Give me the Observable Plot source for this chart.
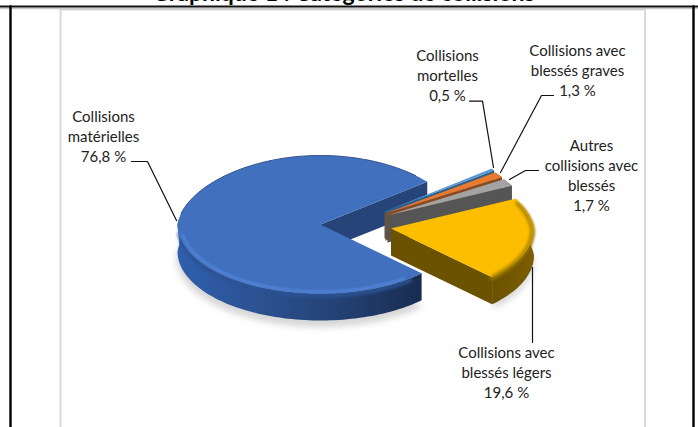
<!DOCTYPE html>
<html><head><meta charset="utf-8">
<script src="https://cdn.jsdelivr.net/npm/d3@7"></script>
<script src="https://cdn.jsdelivr.net/npm/@observablehq/plot@0.6"></script>
<style>html,body{margin:0;background:#fff}svg{display:block}</style>
</head><body><div id="c"></div>
<script>
const categories = ["Collisions matérielles","Collisions mortelles","Collisions avec blessés graves","Autres collisions avec blessés","Collisions avec blessés légers"];
const values = [76.8,0.5,1.3,1.7,19.6];
const valueLabels = ["76,8 %","0,5 %","1,3 %","1,7 %","19,6 %"];
const title = "Graphique 1 : Catégories de collisions";

// layout
const cx=320, cy=224, rx=143, ry=69, depth=27, persp=.08;
const explodeX=[0,.563,.548,.533,.5], explodeY=[0,.31,.285,.27,.35];
const topColors=["#4170bf","#5a9ad3","#ea7a30","#a3a3a3","#fdbe00"];
const sideColors=["url(#sideBlue)","#2d5f8c","#8a4a20","#565656","url(#sideYellow)"];
const cutColors=["#264478","#2d5f8c","#8a4a20","#555555","#6b5200"];

const pie=d3.pie().sort(null).value(d=>d).startAngle(Math.PI*.75).endAngle(Math.PI*2.75);
const arcs=pie(values).map((a,i)=>{
  const a0=a.startAngle-Math.PI/2, a1=a.endAngle-Math.PI/2, m=(a0+a1)/2;
  return {i,a0,a1,ox:cx+Math.cos(m)*rx*explodeX[i],oy:cy+Math.sin(m)*ry*explodeY[i]};
});
function arcPts(s,r=1,from=s.a0,to=s.a1,dz=0){
  const n=Math.max(2,Math.ceil(Math.abs(to-from)/0.03)), p=[];
  for(let k=0;k<=n;k++){
    const t=from+(to-from)*k/n, sn=Math.sin(t), f=1+persp*Math.min(0,sn);
    p.push({x:s.ox+Math.cos(t)*rx*r*f,y:s.oy+sn*ry*r+dz});
  }
  return p;
}
const poly=(pts,fill,extra={})=>Plot.line(pts,{x:"x",y:"y",fill,stroke:"none",curve:"linear",...extra});
function sliceMarks(s){
  const m=[], i=s.i;
  const tip={x:s.ox,y:s.oy}, tipD={x:s.ox,y:s.oy+depth};
  const arcTop=arcPts(s);
  const e=arcTop[arcTop.length-1];
  const d=p=>({x:p.x,y:p.y+depth});
  m.push(poly([tip,e,d(e),tipD,tip],cutColors[i]));
  const wall=i===0?arcPts(s,1,s.a0,Math.PI*1.03):arcTop;
  m.push(poly([...wall,...wall.slice().reverse().map(d)],sideColors[i]));
  if(i===0) m.push(Plot.line(arcPts(s,.99,s.a0+.1,Math.PI*.97,3),{x:"x",y:"y",stroke:"#2c5292",strokeWidth:4,imageFilter:"blur(1.5px)"}));
  if(i===4) m.push(Plot.line(arcPts(s,.99,s.a0+.1,s.a1,2),{x:"x",y:"y",stroke:"#8a6a00",strokeWidth:4,imageFilter:"blur(1.5px)"}));
  m.push(poly([tip,...arcTop,tip],topColors[i]));
  if(i===0){
    m.push(Plot.line(arcPts(s,.975,s.a0+.15,Math.PI*.95),{x:"x",y:"y",stroke:"#5585d8",strokeWidth:2.5,imageFilter:"blur(1.2px)"}));
    m.push(Plot.line(arcPts(s,1,Math.PI*1.05,Math.PI*1.75),{x:"x",y:"y",stroke:"#33538a",strokeWidth:1,imageFilter:"blur(.6px)"}));
  }
  if(i===4) m.push(Plot.line(arcPts(s,.985,s.a0+.05,s.a1-.02,1),{x:"x",y:"y",stroke:"#a07c00",strokeWidth:3,imageFilter:"blur(1.5px)"}));
  return m;
}
const shadow=arcPts(arcs[0],1.01,arcs[0].a0,arcs[0].a0+Math.PI*1.1,depth+6);
const shadowY=arcPts(arcs[4],1.0,arcs[4].a0,arcs[4].a1,depth+5);

const labels=[
 {lines:["Collisions","matérielles",valueLabels[0]],x:103,y:117},
 {lines:["Collisions","mortelles",valueLabels[1]],x:447,y:56},
 {lines:["Collisions avec","blessés graves",valueLabels[2]],x:577,y:51},
 {lines:["Autres","collisions avec","blessés",valueLabels[3]],x:591,y:146},
 {lines:["Collisions avec","blessés légers",valueLabels[4]],x:506,y:353}
];
const textRows=labels.flatMap(l=>l.lines.map((t,k)=>({t,x:l.x,y:l.y+k*20})));
const leaders=[
 [[131,161],[147,161],[176,220]],
 [[469,100.7],[482,100.7],[493,167]],
 [[553,95],[541,95],[500,172]],
 [[538,170],[525,170],[509,179]],
 [[532,267],[532,342]]
];
const defs=()=>{
 const ns="http://www.w3.org/2000/svg", g=document.createElementNS(ns,"defs");
 g.innerHTML=`<linearGradient id="sideBlue" gradientUnits="userSpaceOnUse" x1="177" y1="0" x2="421" y2="0">
 <stop offset="0" stop-color="#2f5fae"/><stop offset=".35" stop-color="#2c5190"/><stop offset=".7" stop-color="#223f70"/><stop offset="1" stop-color="#192c50"/></linearGradient>
 <linearGradient id="sideYellow" gradientUnits="userSpaceOnUse" x1="492" y1="0" x2="533" y2="0">
 <stop offset="0" stop-color="#6b5200"/><stop offset="1" stop-color="#7c5e00"/></linearGradient>`;
 return g;
};
const chart=Plot.plot({
  width:698,height:427,margin:0,
  x:{domain:[0,698],range:[0,698],axis:null},
  y:{domain:[0,427],range:[0,427],axis:null},
  style:{fontFamily:"Lato, sans-serif",background:"#fff"},
  marks:[
    defs,
    Plot.rect([{x1:60.5,x2:645,y1:9.5,y2:430}],{x1:"x1",x2:"x2",y1:"y1",y2:"y2",fill:"none",stroke:"#d9d9d9",strokeWidth:2}),
    Plot.line([{x:0,y:8},{x:698,y:8}],{x:"x",y:"y",stroke:"#c8c8c8",strokeWidth:1.5}),
    Plot.line([{x:0,y:6},{x:698,y:6}],{x:"x",y:"y",stroke:"#111",strokeWidth:2}),
    Plot.line([{x:10,y:6},{x:10,y:427}],{x:"x",y:"y",stroke:"#000",strokeWidth:2.4}),
    Plot.line([{x:693,y:6},{x:693,y:427}],{x:"x",y:"y",stroke:"#000",strokeWidth:2.4}),
    Plot.text([title],{x:()=>343,y:()=>-6.5,text:d=>d,fontSize:23,fontWeight:700,fill:"#000"}),
    poly(shadow,"#bdbdbd",{imageFilter:"blur(3px)",opacity:.6}),
    poly(shadowY,"#bdbdbd",{imageFilter:"blur(3px)",opacity:.6}),
    ...arcs.flatMap(sliceMarks),
    ...leaders.map(l=>Plot.line(l.map(([x,y])=>({x,y})),{x:"x",y:"y",stroke:"#111",strokeWidth:1.2})),
    Plot.text(textRows,{x:"x",y:"y",text:"t",fontSize:15,fill:"#222",textAnchor:"middle",lineAnchor:"middle",style:"letter-spacing:.15px"})
  ]
});
document.getElementById("c").append(chart);
</script></body></html>
